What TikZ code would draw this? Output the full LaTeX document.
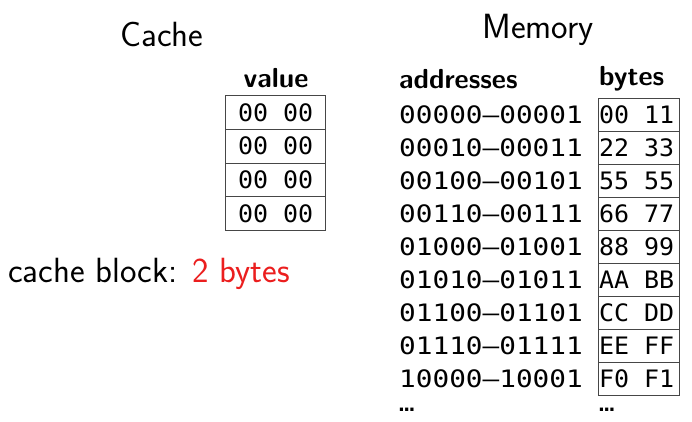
\documentclass[tikz,border=0pt]{standalone}
\usepackage{fontspec}
\newfontfamily\addrfont[FakeStretch=1.155]{DejaVu Sans Mono}
\newfontfamily\bytefont[FakeStretch=1.04]{DejaVu Sans Mono}
\newfontfamily\dotfont[LetterSpace=-9]{DejaVu Sans}
\definecolor{hotred}{RGB}{235,30,30}
\definecolor{gridline}{RGB}{70,70,70}
\begin{document}
\begin{tikzpicture}[x=1pt,y=-1pt,
  title/.style={font=\sffamily\fontsize{35}{40}\selectfont, anchor=base, inner sep=0pt},
  head/.style={font=\sffamily\bfseries\fontsize{27.5}{32}\selectfont, inner sep=0pt},
  addr/.style={font=\addrfont\fontsize{24}{28}\selectfont, anchor=west, inner sep=0pt},
  cell/.style={draw=gridline, line width=0.8pt, inner sep=0pt,
    font=\bytefont\fontsize{24}{28}\selectfont},
  cachecell/.style={cell, minimum width=100pt, minimum height=33.6pt},
  memcell/.style={cell, minimum width=80.7pt, minimum height=33.05pt},
  more/.style={font=\dotfont\bfseries\fontsize{18}{20}\selectfont, anchor=base west, inner sep=0pt}]
\useasboundingbox (0,0) rectangle (692,421);

% ---- cache side ----
\node[title] (cachetitle) at (162,46) {Cache};
\node[head, anchor=base] (valuehead) at (276,87) {value};
\foreach \i in {0,...,3} {
  \node[cachecell] (c\i) at (275.7,{112.5+33.6*\i}) {00 00};
}
\node[font=\sffamily\fontsize{35}{40}\selectfont, anchor=base west, inner sep=0pt]
  (blocksize) at (8,282) {cache block: \textcolor{hotred}{2 bytes}};

% ---- memory side ----
\node[title] (memtitle) at (538,38) {Memory};
\node[head, anchor=base west] (addrhead) at (399,88) {addresses};
\node[head, anchor=base west] (byteshead) at (599,85) {bytes};
% byte values sit slightly left of the cell centre
\foreach \a/\b [count=\k from 0] in {
  00000–00001/00 11, 00010–00011/22 33, 00100–00101/55 55,
  00110–00111/66 77, 01000–01001/88 99, 01010–01011/AA BB,
  01100–01101/CC DD, 01110–01111/EE FF, 10000–10001/F0 F1} {
  \node[addr] (a\k) at (399,{114.8+33.05*\k}) {\a};
  \node[memcell] (m\k) at (638.7,{114.8+33.05*\k}) {\b\kern4pt};
}
\node[more] (addrmore) at (398,411) {...};
\node[more] (bytesmore) at (598,411) {...};
\end{tikzpicture}
\end{document}
